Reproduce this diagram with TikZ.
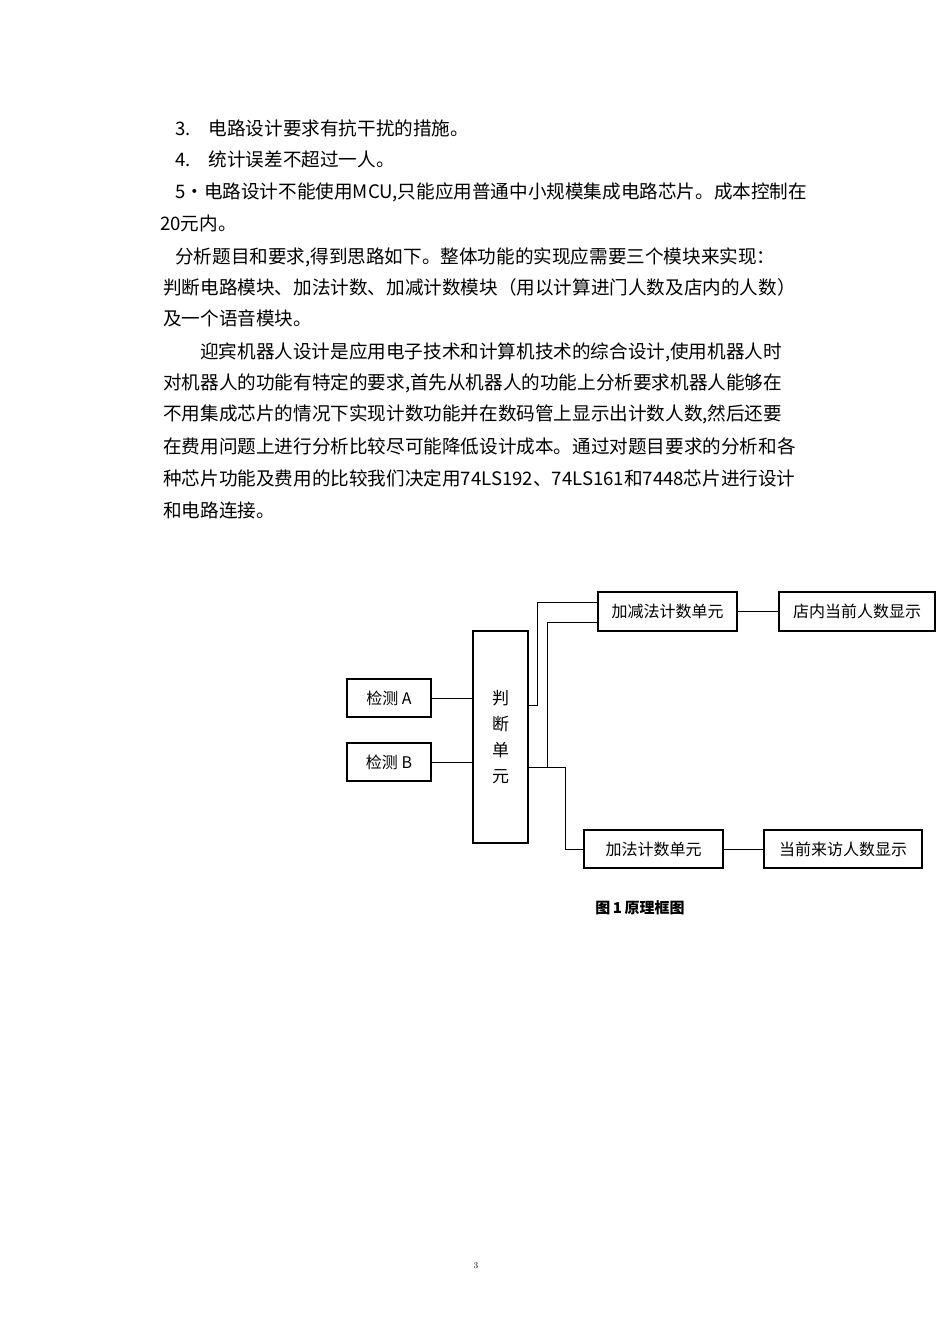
\documentclass[tikz,border=0pt]{standalone}
\usepackage{fontspec}
\newfontfamily\cjk{Noto Sans CJK SC}
\begin{document}
\begin{tikzpicture}[x=1pt,y=-1pt,
  body/.style={anchor=west,inner sep=0,font=\cjk\fontsize{18.6}{18.6}\selectfont},
  blk/.style={draw,line width=1.1pt,inner sep=0,font=\cjk\fontsize{16}{16}\selectfont},
  wire/.style={line width=1pt}]
\useasboundingbox[fill=white] (0,0) rectangle (950,1344);
\node[body] (l1) at (175,128) {3.\hspace{18pt}电路设计要求有抗干扰的措施。};
\node[body] (l2) at (175,159) {4.\hspace{18pt}统计误差不超过一人。};
\node[body] (l3) at (175,192) {5•电路设计不能使用MCU,只能应用普通中小规模集成电路芯片。成本控制在};
\node[body] (l4) at (160,223) {20元内。};
\node[body] (l5) at (175,257) {分析题目和要求,得到思路如下。整体功能的实现应需要三个模块来实现：};
\node[body] (l6) at (163,287) {判断电路模块、加法计数、加减计数模块（用以计算进门人数及店内的人数）};
\node[body] (l7) at (163,318) {及一个语音模块。};
\node[body] (l8) at (200,352) {迎宾机器人设计是应用电子技术和计算机技术的综合设计,使用机器人时};
\node[body] (l9) at (163,383) {对机器人的功能有特定的要求,首先从机器人的功能上分析要求机器人能够在};
\node[body] (l10) at (163,414) {不用集成芯片的情况下实现计数功能并在数码管上显示出计数人数,然后还要};
\node[body] (l11) at (163,446) {在费用问题上进行分析比较尽可能降低设计成本。通过对题目要求的分析和各};
\node[body] (l12) at (163,478) {种芯片功能及费用的比较我们决定用74LS192、74LS161和7448芯片进行设计};
\node[body] (l13) at (163,510) {和电路连接。};
% blocks
\node[blk,minimum width=84pt,minimum height=38pt] (A) at (389,698) {检测 A};
\node[blk,minimum width=84pt,minimum height=38pt] (B) at (389,762) {检测 B};
\node[blk,minimum width=55pt,minimum height=212pt,align=center,font=\cjk\fontsize{17}{26}\selectfont] (J) at (500.5,737) {判\\断\\单\\元};
\node[blk,minimum width=139pt,minimum height=39pt] (AS) at (667.5,611.5) {加减法计数单元};
\node[blk,minimum width=156pt,minimum height=39pt] (D1) at (857,611.5) {店内当前人数显示};
\node[blk,minimum width=139pt,minimum height=38pt] (AD) at (653.5,849) {加法计数单元};
\node[blk,minimum width=158pt,minimum height=38pt] (D2) at (843,849) {当前来访人数显示};
\coordinate (j1) at (528,705);
\coordinate (j2) at (528,767);
\coordinate (as1) at (598,602);
\coordinate (as2) at (598,622);
\draw[wire] (A) -- (A -| J.west);
\draw[wire] (B) -- (B -| J.west);
\draw[wire] (j1) -| (537,602) -- (as1);
\draw[wire] (j2) -| (565,849) -- (AD.west);
\draw[wire] (547,767) |- (as2);
\draw[wire] (AS) -- (D1);
\draw[wire] (AD) -- (D2);
\node[font=\cjk\bfseries\fontsize{15}{15}\selectfont] (cap) at (640,908) {图\,1\,原理框图};
\node[font=\fontsize{9}{9}\selectfont] (pg) at (476,1266) {3};
\end{tikzpicture}
\end{document}
